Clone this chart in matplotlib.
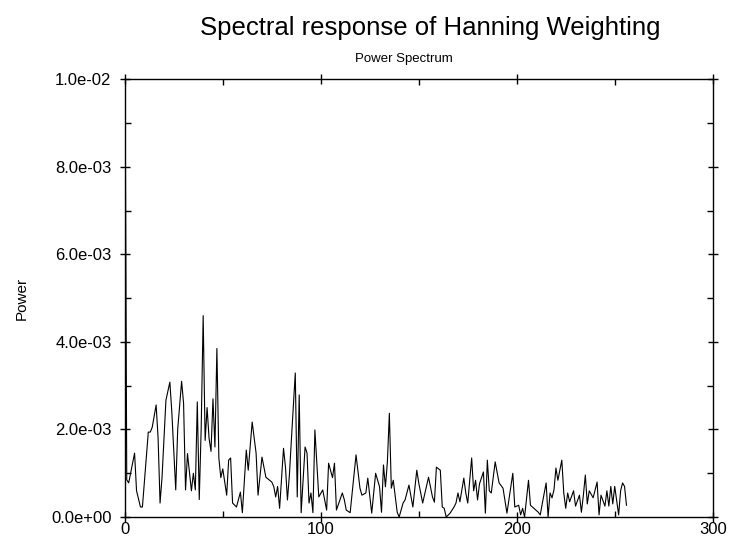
import numpy as np
import matplotlib
matplotlib.use("Agg")
import matplotlib.pyplot as plt
from matplotlib.ticker import MultipleLocator, FormatStrFormatter

plt.rcParams['font.family'] = ['Liberation Sans', 'DejaVu Sans']

# frequency bins (vertices of the trace)
freq = [0, 1, 2, 5, 6, 8, 9, 11, 12, 13, 14, 16, 17, 18, 19, 21, 23, 24, 26, 27,
        29, 30, 31, 32, 34, 35, 36, 37, 38, 39, 40, 41, 42, 43, 44, 45, 46, 47, 48, 49,
        50, 52, 53, 54, 55, 57, 59, 60, 62, 63, 65, 67, 68, 70, 72, 75, 76, 77, 78, 79,
        81, 82, 83, 84, 85, 87, 88, 89, 90, 92, 93, 94, 95, 96, 97, 98, 99, 101, 103, 104,
        106, 107, 108, 111, 112, 113, 115, 118, 120, 121, 123, 124, 126, 128, 130, 131, 132, 133, 134, 135,
        136, 137, 139, 140, 142, 143, 145, 147, 149, 150, 152, 155, 157, 158, 159, 161, 162, 163, 164, 166,
        168, 169, 170, 171, 173, 174, 175, 177, 178, 179, 180, 181, 183, 184, 185, 186, 187, 189, 191, 193,
        195, 198, 199, 201, 202, 203, 204, 206, 207, 208, 211, 212, 213, 215, 216, 217, 218, 219, 220, 221,
        223, 224, 225, 226, 227, 229, 230, 232, 233, 234, 235, 236, 237, 239, 241, 242, 243, 245, 246, 247,
        248, 249, 250, 252, 253, 254, 255, 256]

# power in units of 1e-3
power = [12.0, 0.85, 0.78, 1.46, 0.6, 0.23, 0.23, 1.37, 1.94, 1.94, 2.05, 2.56, 1.8, 0.32, 0.9, 2.67, 3.08, 2.4, 0.62, 2.0,
         3.1, 2.6, 0.62, 1.45, 0.6, 1.0, 0.62, 2.63, 0.4, 2.05, 4.6, 1.75, 2.5, 1.8, 1.5, 2.7, 1.6, 3.85, 1.35, 0.9,
         1.1, 0.5, 1.3, 1.35, 0.32, 0.23, 0.57, 0.1, 1.53, 1.07, 2.17, 1.46, 0.5, 1.37, 0.91, 0.8, 0.7, 0.46, 0.7, 0.2,
         1.57, 1.14, 0.39, 0.96, 1.76, 3.29, 0.46, 2.79, 0.1, 1.6, 1.46, 0.32, 0.55, 0.1, 1.99, 1.23, 0.46, 0.62, 0.16, 1.23,
         0.9, 1.23, 0.16, 0.55, 0.4, 0.16, 0.1, 1.42, 0.66, 0.5, 0.55, 0.89, 0.09, 1.0, 0.69, 0.11, 1.19, 0.69, 1.26, 2.37,
         0.66, 0.84, 0.11, 0.0, 0.32, 0.39, 0.73, 0.23, 1.07, 0.78, 0.32, 0.91, 0.46, 0.34, 1.14, 1.07, 0.23, 0.2, 0.0, 0.09,
         0.23, 0.32, 0.55, 0.35, 0.89, 0.55, 0.32, 1.35, 0.6, 0.84, 0.39, 0.76, 1.03, 0.09, 1.3, 0.6, 0.55, 1.26, 0.78, 0.66,
         0.09, 1.0, 0.23, 0.27, 0.05, 0.2, 0.0, 0.84, 0.27, 0.23, 0.11, 0.05, 0.3, 0.78, 0.0, 0.55, 0.44, 0.62, 1.12, 0.84,
         1.3, 0.55, 0.2, 0.55, 0.35, 0.6, 0.25, 0.5, 0.11, 0.5, 0.96, 0.3, 0.6, 0.44, 0.8, 0.05, 0.5, 0.25, 0.6, 0.25,
         0.7, 0.3, 0.7, 0.05, 0.6, 0.78, 0.7, 0.27]

power = np.array(power) * 1e-3

fig = plt.figure(figsize=(7.34, 5.42), dpi=100)
ax = fig.add_axes([0.170, 0.046, 0.801, 0.808])

ax.plot(freq, power, color='black', linewidth=0.8)

ax.set_xlim(0, 300)
ax.set_ylim(0, 1.0e-2)
ax.xaxis.set_major_locator(MultipleLocator(100))
ax.xaxis.set_minor_locator(MultipleLocator(50))
ax.yaxis.set_major_locator(MultipleLocator(2e-3))
ax.yaxis.set_minor_locator(MultipleLocator(1e-3))
ax.yaxis.set_major_formatter(FormatStrFormatter('%.1e'))

ax.tick_params(which='major', direction='inout', length=7, width=1,
               top=True, right=True, labelsize=12)
ax.tick_params(axis='y', which='major', pad=6)
ax.tick_params(axis='x', which='major', pad=0)
ax.tick_params(which='minor', direction='in', length=4, width=1,
               top=True, right=True)
for s in ax.spines.values():
    s.set_linewidth(1.0)

fig.text(22 / 734, 1 - 298 / 542, 'Power', rotation=90,
         ha='center', va='center', fontsize=11)
fig.text(404 / 734, 1 - 59 / 542, 'Power Spectrum',
         ha='center', va='center', fontsize=9.5)
fig.text(430 / 734, 1 - 28 / 542, 'Spectral response of Hanning Weighting',
         ha='center', va='center', fontsize=18.5)

fig.savefig('out.png', dpi=100)
